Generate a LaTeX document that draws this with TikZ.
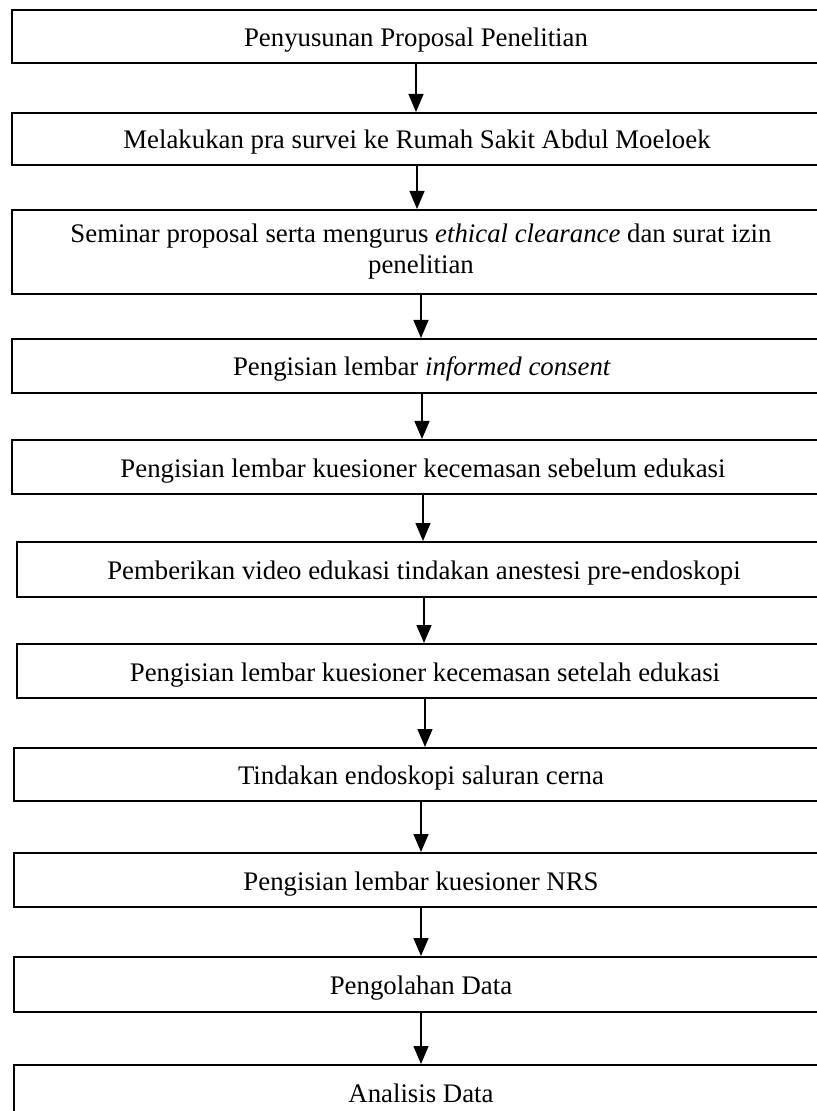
\documentclass[tikz,border=0pt]{standalone}
\usepackage{fontspec}
\setmainfont{Liberation Serif}
\usetikzlibrary{arrows.meta, positioning, calc}

\begin{document}
\begin{tikzpicture}[
    x=0.5pt, y=-0.5pt,
    box/.style={rectangle, draw=black, line width=1pt, inner sep=0pt, anchor=north,
        font=\fontsize{13.4}{15.5}\selectfont, text=black, align=center, minimum height=27pt},
    oneline/.style={text height=11pt, text depth=1pt},
    arr/.style={-{Triangle[length=9pt, width=7.5pt]}, line width=0.7pt, black}
]
    \useasboundingbox (0,0) rectangle (816,1111);
    \node[box, oneline, minimum width=404pt, minimum height=26.5pt] (s1) at (416,9) {Penyusunan Proposal Penelitian};
    \node[box, oneline, minimum width=405pt, minimum height=26pt] (s2) at (417,112) {Melakukan pra survei ke Rumah Sakit Abdul Moeloek};
    \node[box, minimum width=409pt, minimum height=42pt] (s3) at (421,209) {Seminar proposal serta mengurus \textit{ethical clearance} dan surat izin\\penelitian};
    \node[box, oneline, minimum width=410pt] (s4) at (422,338) {Pengisian lembar \textit{informed consent}};
    \node[box, oneline, minimum width=411pt] (s5) at (423,439) {Pengisian lembar kuesioner kecemasan sebelum edukasi};
    \node[box, oneline, minimum width=407pt, minimum height=27.5pt] (s6) at (424,541) {Pemberikan video edukasi tindakan anestesi pre-endoskopi};
    \node[box, oneline, minimum width=408pt] (s7) at (425,643) {Pengisian lembar kuesioner kecemasan setelah edukasi};
    \node[box, oneline, minimum width=407pt, minimum height=26.5pt] (s8) at (421,747) {Tindakan endoskopi saluran cerna};
    \node[box, oneline, minimum width=407pt] (s9) at (421,852) {Pengisian lembar kuesioner NRS};
    \node[box, oneline, minimum width=407pt, minimum height=27.5pt] (s10) at (421,956) {Pengolahan Data};
    \node[box, oneline, minimum width=407pt] (s11) at (421,1064) {Analisis Data};
    \foreach \a/\b in {s1/s2, s2/s3, s3/s4, s4/s5, s5/s6, s6/s7, s7/s8, s8/s9, s9/s10, s10/s11}
        \draw[arr] (\a.south) -- (\a.south |- \b.north);
\end{tikzpicture}
\end{document}
